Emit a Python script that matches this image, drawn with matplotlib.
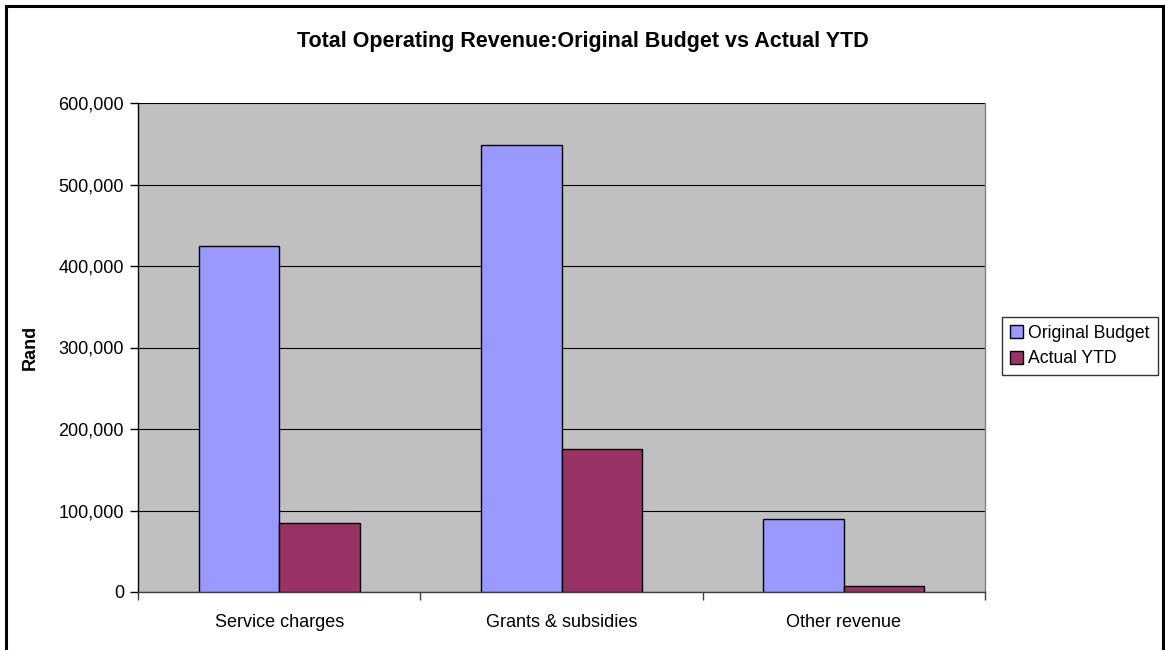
import matplotlib
matplotlib.use("Agg")
import matplotlib.pyplot as plt
import numpy as np
from matplotlib.patches import Rectangle
from matplotlib.ticker import FuncFormatter, FixedLocator

plt.rcParams["font.family"] = ["Liberation Sans", "DejaVu Sans"]

categories = ["Service charges", "Grants & subsidies", "Other revenue"]
original_budget = [425000, 549000, 89000]
actual_ytd = [85000, 175000, 7000]
series_names = ["Original Budget", "Actual YTD"]
colors = ["#9999FF", "#993366"]

fig = plt.figure(figsize=(11.65, 6.5), dpi=100)
fig.patch.set_facecolor("white")

# outer chart border (bottom edge runs off the canvas)
fig.add_artist(Rectangle((6 / 1165, -0.05), 1157 / 1165, (650 - 6) / 650 + 0.05,
                         transform=fig.transFigure, fill=False,
                         edgecolor="black", linewidth=2.2))

ax = fig.add_axes([138 / 1165, 58 / 650, (985 - 138) / 1165, (592 - 103) / 650])
ax.set_facecolor("#C0C0C0")

x = np.arange(len(categories))
w = 0.285
ax.bar(x - w / 2, original_budget, w, color=colors[0], edgecolor="black",
       linewidth=1.0, label=series_names[0], zorder=3)
ax.bar(x + w / 2, actual_ytd, w, color=colors[1], edgecolor="black",
       linewidth=1.0, label=series_names[1], zorder=3)

ax.set_xlim(-0.5, len(categories) - 0.5)
ax.set_ylim(0, 600000)
ax.set_yticks(np.arange(0, 600001, 100000))
ax.yaxis.set_major_formatter(FuncFormatter(lambda v, p: f"{int(v):,}"))
ax.yaxis.grid(True, color="black", linewidth=0.8, zorder=1)
ax.set_axisbelow(True)

# category labels centred, ticks at category boundaries
ax.set_xticks(x)
ax.set_xticklabels(categories, fontsize=13)
ax.tick_params(axis="x", which="major", length=0, pad=16)
ax.xaxis.set_minor_locator(FixedLocator(np.arange(-0.5, len(categories), 1.0)))
ax.tick_params(axis="x", which="minor", length=6, width=1.0, color="#404040")
ax.tick_params(axis="y", length=6, width=1.0, labelsize=13, pad=4)

ax.spines["top"].set_visible(False)
ax.spines["right"].set_color("#808080")
ax.spines["left"].set_color("black")
ax.spines["bottom"].set_color("#404040")
for s in ax.spines.values():
    s.set_linewidth(1.0)

ax.set_ylabel("Rand", fontsize=13, fontweight="bold", labelpad=14)

fig.text(583 / 1165, 1 - 41 / 650, "Total Operating Revenue:Original Budget vs Actual YTD",
         ha="center", va="center", fontsize=15.5, fontweight="bold")

leg = fig.legend(loc="center left", bbox_to_anchor=(1002 / 1165, 1 - 346 / 650),
                 fontsize=12.7, frameon=True, fancybox=False, edgecolor="black",
                 handlelength=0.75, handleheight=0.75, handletextpad=0.3,
                 borderpad=0.45, labelspacing=0.5, borderaxespad=0)
leg.get_frame().set_linewidth(1.0)

fig.savefig("out.png", dpi=100)
